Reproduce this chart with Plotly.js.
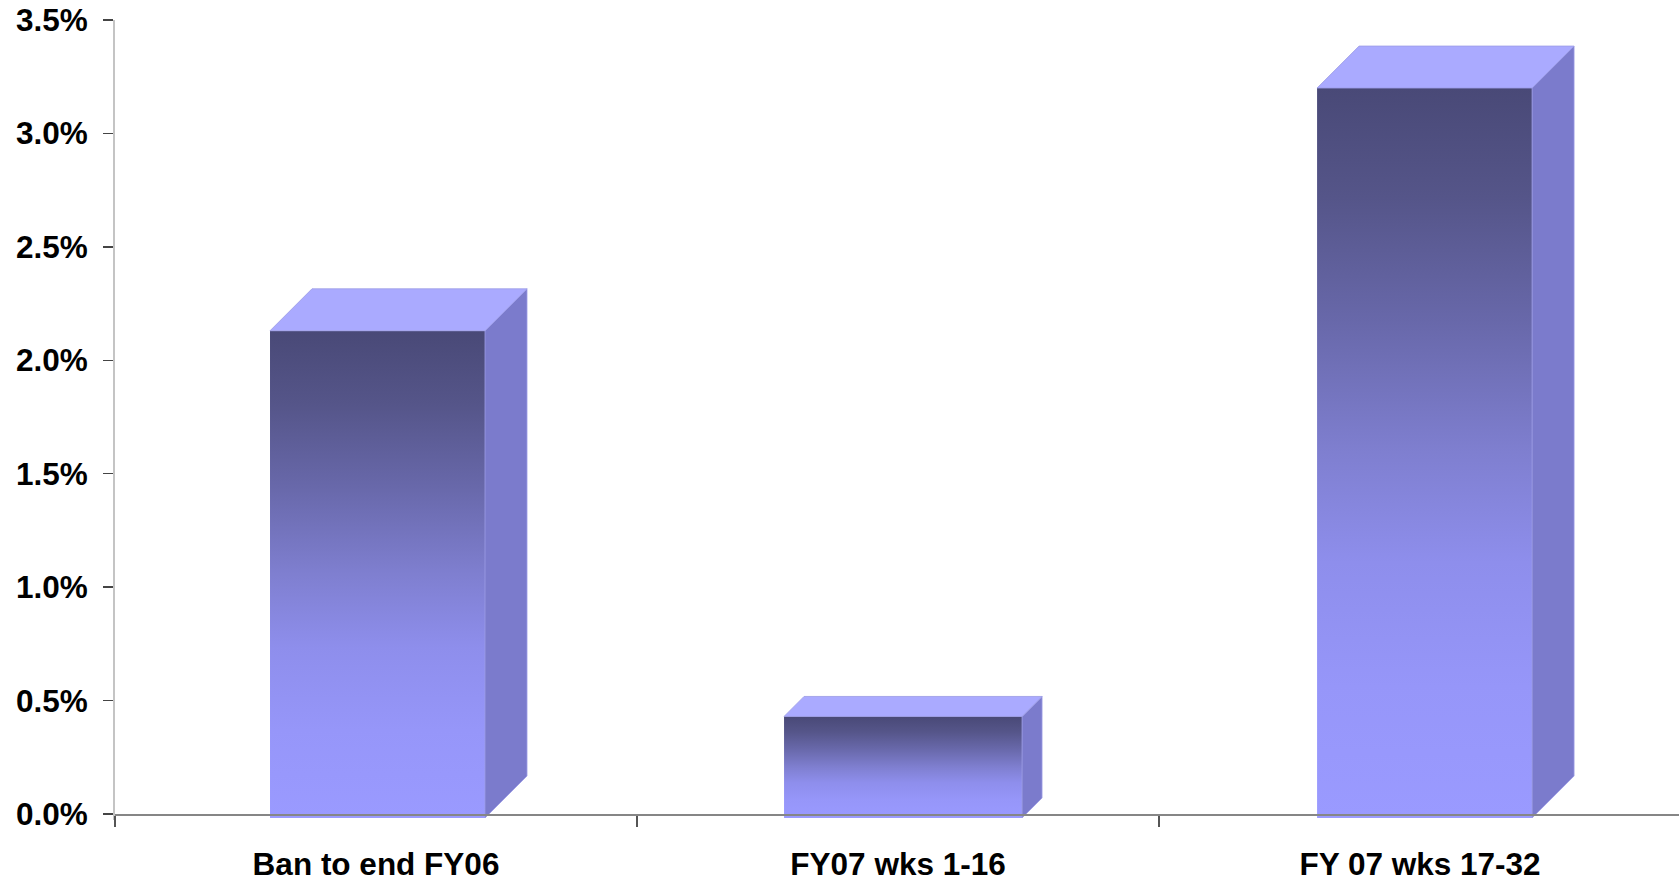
<!DOCTYPE html>
<html>
<head>
<meta charset="utf-8">
<script src="https://cdn.plot.ly/plotly-3.0.1.min.js"></script>
<style>
  html, body { margin: 0; padding: 0; background: #ffffff; }
  #chart { width: 1679px; height: 882px; }
</style>
</head>
<body>
<div id="chart"></div>
<script>
// Chart data
const categories = ['Ban to end FY06', 'FY07 wks 1-16', 'FY 07 wks 17-32'];
const values = [2.13, 0.43, 3.20];           // percent
const yTickValues = [0, 0.5, 1, 1.5, 2, 2.5, 3, 3.5];

// Figure geometry
const W = 1679, H = 882;
const M = { l: 115, r: 0, t: 20, b: 62 };
const plotW = W - M.l - M.r;
const plotH = H - M.t - M.b;
const X_RANGE = [-0.5, 2.496];
const PX_PER_UNIT_Y = 794 / 3.5;              // vertical scale of the value axis
const belowZeroPx = 6;                        // room under the floor for the box fronts
const Y_RANGE = [-belowZeroPx / PX_PER_UNIT_Y, 3.5];
const pxX = p => p * (X_RANGE[1] - X_RANGE[0]) / plotW;   // pixels -> x units
const pxY = p => p * (Y_RANGE[1] - Y_RANGE[0]) / plotH;   // pixels -> y units

// Per-column box style (pixels): front-face left offset from the slot centre,
// front-face width, and the oblique depth of the box.
const boxStyle = [
  { left: -106, width: 215, depth: 42 },
  { left: -114, width: 238, depth: 20 },
  { left: -103, width: 215, depth: 42 }
];
const floorDrop = 4;   // front face sits slightly in front of the axis wall

const frontScale = [
  [0.00, '#9a9aff'],
  [0.18, '#9696f9'],
  [0.35, '#8e8eec'],
  [0.50, '#7f7fd0'],
  [0.68, '#6868aa'],
  [0.85, '#555589'],
  [1.00, '#494977']
];

const traces = [];
values.forEach((v, i) => {
  const s = boxStyle[i];
  const xL = i + pxX(s.left);
  const xR = xL + pxX(s.width);
  const dx = pxX(s.depth);
  const dy = pxY(s.depth);
  const yB = -pxY(floorDrop);
  const base = { type: 'scatter', mode: 'lines', fill: 'toself',
                 hoverinfo: 'skip', showlegend: false, line: { width: 0 } };

  // front face with vertical shading
  traces.push(Object.assign({}, base, {
    x: [xL, xR, xR, xL, xL],
    y: [yB, yB, v, v, yB],
    fillcolor: '#7f7fd0',
    fillgradient: { type: 'vertical', colorscale: frontScale }
  }));
  // right side face
  traces.push(Object.assign({}, base, {
    x: [xR, xR + dx, xR + dx, xR, xR],
    y: [yB, yB + dy, v + dy, v, yB],
    fillcolor: '#7b7bcc',
    line: { width: 0.8, color: '#9c9ce6' }
  }));
  // top face
  traces.push(Object.assign({}, base, {
    x: [xL, xR, xR + dx, xL + dx, xL],
    y: [v, v, v + dy, v + dy, v],
    fillcolor: '#aaaaff',
    line: { width: 0.8, color: '#9a9ae4' }
  }));
});

const tickFont = { family: '"Liberation Sans", Arial, sans-serif', size: 31.5, color: '#000000', weight: 'bold' };

const layout = {
  width: W, height: H,
  margin: M,
  paper_bgcolor: '#ffffff',
  plot_bgcolor: '#ffffff',
  showlegend: false,
  xaxis: {
    range: X_RANGE,
    anchor: 'free',
    position: belowZeroPx / plotH,            // category axis sits on the zero floor
    tickmode: 'array',
    tickvals: categories.map((c, i) => i),
    ticktext: categories,
    ticks: '',
    tickfont: tickFont,
    ticklabelstandoff: 22,
    showgrid: false,
    zeroline: false,
    showline: true,
    linecolor: '#868686',
    linewidth: 1.5,
    minor: {
      tickmode: 'array',
      tickvals: [-0.5, 0.5, 1.5],
      ticks: 'outside',
      ticklen: 11,
      tickwidth: 1.5,
      tickcolor: '#555555',
      showgrid: false
    },
    fixedrange: true
  },
  yaxis: {
    range: Y_RANGE,
    tickmode: 'array',
    tickvals: yTickValues,
    ticktext: yTickValues.map(t => t.toFixed(1) + '%'),
    ticks: 'outside',
    ticklen: 10,
    tickwidth: 1.5,
    tickcolor: '#444444',
    tickfont: tickFont,
    ticklabelstandoff: 9,
    showgrid: false,
    zeroline: false,
    showline: true,
    linecolor: '#c4c4c4',
    linewidth: 2,
    fixedrange: true
  }
};

Plotly.newPlot('chart', traces, layout, { displayModeBar: false, staticPlot: true });
</script>
</body>
</html>
